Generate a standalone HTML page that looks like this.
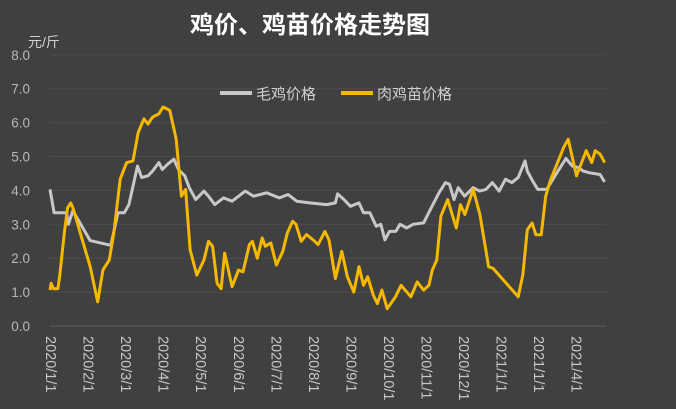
<!DOCTYPE html>
<html><head><meta charset="utf-8"><style>
html,body{margin:0;padding:0;background:#404040;}
svg{display:block;font-family:"Liberation Sans","Noto Sans CJK SC",sans-serif;}
</style></head><body>
<svg id="chart" width="676" height="409" viewBox="0 0 676 409" xmlns="http://www.w3.org/2000/svg">
<rect x="0" y="0" width="676" height="409" fill="#404040"/>
<text x="310" y="33" text-anchor="middle" fill="#ffffff" font-size="24" font-weight="bold">鸡价、鸡苗价格走势图</text>
<text x="28" y="47" fill="#d0d0d0" font-size="14">元/斤</text>
<g id="grid"></g><g id="ylabels"></g><g id="xlabels"></g><g id="series"></g>
<g>
<line x1="220" y1="93" x2="252" y2="93" stroke="#c8c8c8" stroke-width="4"/>
<text x="256" y="99" fill="#d0d0d0" font-size="15">毛鸡价格</text>
<line x1="341" y1="93" x2="373" y2="93" stroke="#f5b800" stroke-width="4"/>
<text x="377" y="99" fill="#d0d0d0" font-size="15">肉鸡苗价格</text>
</g>
</svg>
<script>
const yTicks=[0,1,2,3,4,5,6,7,8];
const xLabels=["2020/1/1","2020/2/1","2020/3/1","2020/4/1","2020/5/1","2020/6/1","2020/7/1","2020/8/1","2020/9/1","2020/10/1","2020/11/1","2020/12/1","2021/1/1","2021/1/1","2021/4/1"];
const grayX=[0,0.11,0.44,0.49,0.61,1.07,1.62,1.81,1.98,2.1,2.33,2.44,2.61,2.73,2.9,2.99,3.13,3.3,3.42,3.59,3.71,3.88,4.1,4.22,4.39,4.62,4.85,5.2,5.42,5.77,6.11,6.34,6.57,6.92,7.37,7.6,7.66,7.83,8.0,8.23,8.35,8.52,8.69,8.81,8.92,9.04,9.21,9.32,9.5,9.67,9.95,10.13,10.36,10.53,10.64,10.76,10.87,11.04,11.27,11.44,11.61,11.78,11.96,12.13,12.3,12.47,12.65,12.71,12.88,12.99,13.23,13.45,13.74,13.91,14.08,14.2,14.37,14.65,14.77];
const grayV=[4.03,3.34,3.34,3.0,3.4,2.52,2.38,3.34,3.34,3.58,4.72,4.38,4.43,4.57,4.82,4.62,4.77,4.92,4.62,4.43,4.08,3.73,3.98,3.83,3.58,3.78,3.68,3.98,3.83,3.93,3.78,3.88,3.68,3.63,3.58,3.63,3.9,3.73,3.53,3.63,3.34,3.34,2.94,3.0,2.54,2.79,2.79,3.0,2.89,3.0,3.04,3.44,3.93,4.23,4.18,3.73,4.08,3.83,4.08,3.98,4.03,4.23,3.98,4.33,4.23,4.38,4.87,4.57,4.23,4.03,4.03,4.43,4.94,4.72,4.67,4.57,4.52,4.47,4.25];
const chickX=[0,0.03,0.09,0.21,0.26,0.38,0.47,0.55,0.61,0.78,1.07,1.27,1.41,1.58,1.7,1.87,2.04,2.21,2.35,2.5,2.61,2.73,2.9,3.01,3.19,3.36,3.5,3.61,3.73,3.91,4.1,4.22,4.33,4.45,4.56,4.65,4.85,5.02,5.14,5.31,5.39,5.52,5.65,5.73,5.88,6.03,6.2,6.32,6.46,6.55,6.69,6.83,7.01,7.14,7.32,7.43,7.6,7.77,7.92,8.09,8.23,8.35,8.46,8.61,8.72,8.84,8.98,9.2,9.35,9.61,9.78,9.95,10.09,10.18,10.3,10.41,10.59,10.82,10.93,11.05,11.27,11.45,11.68,11.8,12.47,12.59,12.71,12.84,12.94,13.08,13.2,13.32,13.68,13.8,14.02,14.28,14.43,14.52,14.65,14.77];
const chickV=[1.06,1.26,1.1,1.1,1.5,2.74,3.49,3.63,3.49,2.84,1.75,0.71,1.65,1.95,2.74,4.33,4.82,4.87,5.71,6.11,5.96,6.16,6.26,6.46,6.36,5.51,3.83,4.03,2.25,1.5,1.95,2.5,2.35,1.26,1.1,2.15,1.16,1.65,1.6,2.4,2.5,2.0,2.6,2.35,2.45,1.8,2.2,2.74,3.09,3.0,2.5,2.7,2.54,2.4,2.79,2.54,1.4,2.2,1.45,1.0,1.75,1.2,1.45,0.91,0.66,1.06,0.51,0.86,1.2,0.86,1.3,1.06,1.2,1.65,1.95,3.24,3.73,2.89,3.58,3.29,4.03,3.29,1.75,1.7,0.86,1.5,2.84,3.04,2.69,2.69,3.83,4.28,5.27,5.51,4.43,5.17,4.82,5.17,5.07,4.82];
const NS="http://www.w3.org/2000/svg";
const X0=50,XW=37.55,Y0=326,YU=33.9;
function xs(m){return X0+m*XW;}
function ys(v){return Y0-v*YU;}
const grid=document.getElementById('grid'),yl=document.getElementById('ylabels'),xl=document.getElementById('xlabels'),ser=document.getElementById('series');
yTicks.forEach(t=>{
 const l=document.createElementNS(NS,'line');
 l.setAttribute('x1',X0);l.setAttribute('x2',606);l.setAttribute('y1',ys(t));l.setAttribute('y2',ys(t));
 l.setAttribute('stroke',t===0?'#5e5e5e':'#4c4c4c');l.setAttribute('stroke-width','1');
 
 
 grid.appendChild(l);
 const tx=document.createElementNS(NS,'text');
 tx.setAttribute('x',30);tx.setAttribute('y',ys(t)+5);tx.setAttribute('text-anchor','end');
 tx.setAttribute('fill','#b8b8b8');tx.setAttribute('font-size','13.5');
 tx.textContent=t.toFixed(1);
 
 
 yl.appendChild(tx);
});
xLabels.forEach((s,i)=>{
 const tx=document.createElementNS(NS,'text');
 const x=xs(i)-4,y=336;
 tx.setAttribute('x',x);tx.setAttribute('y',y);
 tx.setAttribute('transform','rotate(90 '+x+' '+y+')');
 tx.setAttribute('fill','#c8c8c8');tx.setAttribute('font-size','14.5');
 tx.textContent=s;
 
 
 xl.appendChild(tx);
});
function line(xsArr,vs,color,name){
 const p=document.createElementNS(NS,'polyline');
 p.setAttribute('points',xsArr.map((m,i)=>xs(m).toFixed(1)+','+ys(vs[i]).toFixed(1)).join(' '));
 p.setAttribute('fill','none');p.setAttribute('stroke',color);p.setAttribute('stroke-width','3');
 p.setAttribute('stroke-linejoin','round');
 
 
 ser.appendChild(p);
}
line(grayX,grayV,'#c8c8c8','live-chicken-price-line');
line(chickX,chickV,'#f5b800','chick-price-line');
</script>
</body></html>
